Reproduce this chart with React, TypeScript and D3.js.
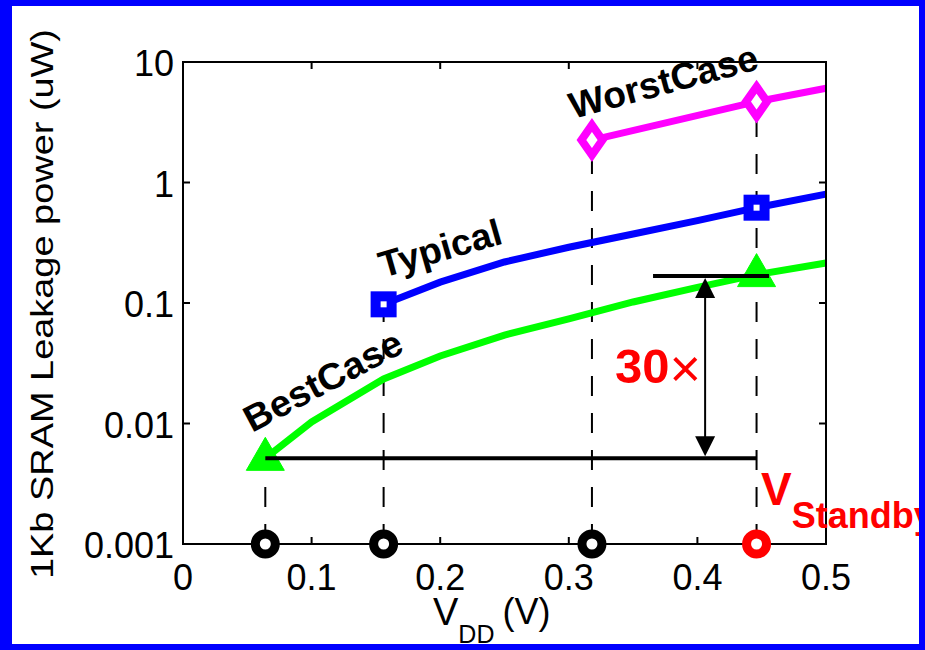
import React from "react";
import * as d3 from "d3";

const xTicks = [0, 0.1, 0.2, 0.3, 0.4, 0.5];
const xTickLabels = ["0", "0.1", "0.2", "0.3", "0.4", "0.5"];
const yTicks = [0.001, 0.01, 0.1, 1, 10];
const yTickLabels = ["0.001", "0.01", "0.1", "1", "10"];

const worstVdd = [0.318, 0.446, 0.5];
const worstPower = [2.25, 4.69, 6.05];
const typicalVdd = [0.156, 0.2, 0.25, 0.3, 0.35, 0.4, 0.446, 0.5];
const typicalPower = [0.0975, 0.149, 0.219, 0.29, 0.374, 0.483, 0.618, 0.8];
const bestVdd = [0.064, 0.1, 0.156, 0.2, 0.25, 0.3, 0.35, 0.4, 0.446, 0.5];
const bestPower = [0.00514, 0.0103, 0.0234, 0.0363, 0.0542, 0.0737, 0.102, 0.135, 0.172, 0.215];

const worstMarkers = [0.318, 0.446];
const typicalMarkers = [0.156, 0.446];
const bestMarkers = [0.064, 0.446];

const opVdd = [0.064, 0.156, 0.318, 0.446];
const opTop = [0.00514, 0.0975, 2.25, 4.69];
const opColor = ["#000", "#000", "#000", "#ff0000"];

const lowRef = 0.00514;
const highRef = 0.1675;
const lowRefRange = [0.064, 0.446];
const highRefRange = [0.3655, 0.4557];
const arrowVdd = 0.406;

const FONT = "'Liberation Sans', Arial, sans-serif";

export default function App() {
  const W = 925, H = 650;
  const x = d3.scaleLinear().domain([0, 0.5]).range([183, 826]);
  const y = d3.scaleLog().domain([0.001, 10]).range([544, 62]);
  const line = d3.line<[number, number]>().x(d => x(d[0])).y(d => y(d[1]));
  const zip = (a: number[], b: number[]) => a.map((v, i) => [v, b[i]] as [number, number]);
  const valAt = (vs: number[], ps: number[], v: number) => ps[vs.indexOf(v)];

  const [x0, x1] = x.range();
  const [yb, yt] = y.range();
  const tick = 7;

  const ax = x(arrowVdd);
  const yHi = y(highRef), yLo = y(lowRef);
  const head = 20, hw = 10;

  return (
    <svg width={W} height={H} style={{ position: "absolute", left: 0, top: 0 }} fontFamily={FONT}>
      <rect x={0} y={0} width={W} height={H} fill="#0000ff" />
      <rect x={12} y={6} width={907} height={638} fill="#fff" />

      {/* dashed guide lines */}
      {opVdd.map((v, i) => (
        <line key={"d" + i} x1={x(v)} x2={x(v)} y1={yb} y2={y(opTop[i])} stroke="#000" strokeWidth={2} strokeDasharray="20,17" />
      ))}

      {/* series lines */}
      <path d={line(zip(worstVdd, worstPower)) || ""} fill="none" stroke="#ff00ff" strokeWidth={7} />
      <path d={line(zip(typicalVdd, typicalPower)) || ""} fill="none" stroke="#0000ff" strokeWidth={7} />
      <path d={line(zip(bestVdd, bestPower)) || ""} fill="none" stroke="#00ff00" strokeWidth={7} />

      {/* markers */}
      {worstMarkers.map((v, i) => {
        const cx = x(v), cy = y(valAt(worstVdd, worstPower, v));
        return <polygon key={"w" + i} points={`${cx},${cy - 15} ${cx + 10.5},${cy} ${cx},${cy + 15} ${cx - 10.5},${cy}`} fill="#fff" stroke="#ff00ff" strokeWidth={8} />;
      })}
      {typicalMarkers.map((v, i) => {
        const cx = x(v), cy = y(valAt(typicalVdd, typicalPower, v));
        return <rect key={"t" + i} x={cx - 8} y={cy - 8} width={16} height={16} fill="#fff" stroke="#0000ff" strokeWidth={10} />;
      })}
      {bestMarkers.map((v, i) => {
        const cx = x(v), cy = y(valAt(bestVdd, bestPower, v));
        return <polygon key={"b" + i} points={`${cx},${cy - 21} ${cx + 19},${cy + 12} ${cx - 19},${cy + 12}`} fill="#00ff00" stroke="#00ff00" strokeWidth={1} />;
      })}

      {/* annotation: reference lines and arrow */}
      <line x1={x(lowRefRange[0])} x2={x(lowRefRange[1])} y1={yLo} y2={yLo} stroke="#000" strokeWidth={4} />
      <line x1={x(highRefRange[0])} x2={x(highRefRange[1])} y1={yHi} y2={yHi} stroke="#000" strokeWidth={4} />
      <line x1={ax} x2={ax} y1={yHi + head} y2={yLo - head} stroke="#000" strokeWidth={2} />
      <polygon points={`${ax},${yHi + 2} ${ax + hw},${yHi + head + 2} ${ax - hw},${yHi + head + 2}`} fill="#000" />
      <polygon points={`${ax},${yLo - 2} ${ax + hw},${yLo - head - 2} ${ax - hw},${yLo - head - 2}`} fill="#000" />

      {/* axes box */}
      <rect x={x0} y={yt} width={x1 - x0} height={yb - yt} fill="none" stroke="#000" strokeWidth={2} />
      {xTicks.map((t, i) => (
        <g key={"xt" + i}>
          <line x1={x(t)} x2={x(t)} y1={yb} y2={yb - tick} stroke="#000" strokeWidth={2} />
          <line x1={x(t)} x2={x(t)} y1={yt} y2={yt + tick} stroke="#000" strokeWidth={2} />
          <text x={x(t)} y={590} fontSize={36} textAnchor="middle" fill="#000">{xTickLabels[i]}</text>
        </g>
      ))}
      {yTicks.map((t, i) => (
        <g key={"yt" + i}>
          <line x1={x0} x2={x0 + tick} y1={y(t)} y2={y(t)} stroke="#000" strokeWidth={2} />
          <line x1={x1} x2={x1 - tick} y1={y(t)} y2={y(t)} stroke="#000" strokeWidth={2} />
          <text x={174} y={y(t) + 14} fontSize={36} textAnchor="end" fill="#000">{yTickLabels[i]}</text>
        </g>
      ))}

      {/* operating-point circles on the x axis */}
      {opVdd.map((v, i) => (
        <circle key={"c" + i} cx={x(v)} cy={yb} r={10} fill="#fff" stroke={opColor[i]} strokeWidth={9} />
      ))}

      {/* axis titles */}
      <text transform="translate(53,304) rotate(-90)" fontSize={32} textAnchor="middle" textLength={550} lengthAdjust="spacingAndGlyphs" fill="#000">1Kb SRAM Leakage power (uW)</text>
      <text x={433} y={625} fill="#000">
        <tspan fontSize={38}>V</tspan>
        <tspan fontSize={25} dy={18}>DD</tspan>
        <tspan fontSize={36} dy={-19} dx={8}>(V)</tspan>
      </text>

      {/* series labels */}
      <text transform="translate(573,119) rotate(-15)" fontSize={37} fontWeight="bold" textLength={194} lengthAdjust="spacingAndGlyphs" fill="#000">WorstCase</text>
      <text transform="translate(383,278) rotate(-16)" fontSize={37} fontWeight="bold" textLength={126} lengthAdjust="spacingAndGlyphs" fill="#000">Typical</text>
      <text transform="translate(252,433) rotate(-28)" fontSize={37} fontWeight="bold" textLength={174} lengthAdjust="spacingAndGlyphs" fill="#000">BestCase</text>

      {/* ratio label */}
      <text x={615} y={383} fill="#ff0000">
        <tspan fontSize={49} fontWeight="bold">30</tspan>
        <tspan fontSize={54} fontWeight="normal" dy={4}>×</tspan>
      </text>

      {/* V standby */}
      <text x={761} y={505} fill="#ff0000" fontWeight="bold">
        <tspan fontSize={46}>V</tspan>
        <tspan fontSize={36} dy={23}>Standby</tspan>
      </text>

      {/* blue frame on top */}
      <rect x={0} y={0} width={W} height={6} fill="#0000ff" />
      <rect x={0} y={644} width={W} height={6} fill="#0000ff" />
      <rect x={0} y={0} width={12} height={H} fill="#0000ff" />
      <rect x={919} y={0} width={6} height={H} fill="#0000ff" />
    </svg>
  );
}
